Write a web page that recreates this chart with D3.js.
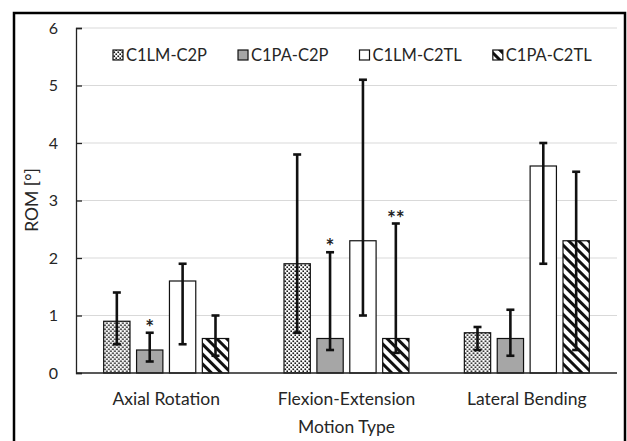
<!DOCTYPE html>
<html>
<head>
<meta charset="utf-8">
<script src="https://cdn.jsdelivr.net/npm/d3@7"></script>
<style>
  body { margin: 0; background: #fff; }
  svg { display: block; font-family: Lato, "Open Sans", sans-serif; }
</style>
</head>
<body>
<svg id="chart" width="627" height="441"></svg>
<script>
// data
const motions = ['Axial Rotation', 'Flexion-Extension', 'Lateral Bending'];
const groups = ['C1LM-C2P', 'C1PA-C2P', 'C1LM-C2TL', 'C1PA-C2TL'];
const means = [
  [0.9, 0.4, 1.6, 0.6],
  [1.9, 0.6, 2.3, 0.6],
  [0.7, 0.6, 3.6, 2.3]
];
const errLow = [
  [0.5, 0.2, 0.5, 0.3],
  [0.7, 0.4, 1.0, 0.35],
  [0.4, 0.3, 1.9, 0.4]
];
const errHigh = [
  [1.4, 0.7, 1.9, 1.0],
  [3.8, 2.1, 5.1, 2.6],
  [0.8, 1.1, 4.0, 3.5]
];
const marks = [
  ['', '*', '', ''],
  ['', '*', '', '**'],
  ['', '', '', '']
];
const yTicks = [0, 1, 2, 3, 4, 5, 6];

const svg = d3.select('#chart');
const plotL = 76, plotR = 617, plotT = 28, plotB = 373;
const ink = '#262626';

// patterns
const defs = svg.append('defs');
const dots = defs.append('pattern')
  .attr('id', 'dots').attr('patternUnits', 'userSpaceOnUse')
  .attr('width', 4).attr('height', 4);
dots.append('rect').attr('width', 4).attr('height', 4).attr('fill', '#fff');
dots.append('rect').attr('x', 0.4).attr('y', 0.4).attr('width', 1.7).attr('height', 1.7).attr('fill', '#1a1a1a');
dots.append('rect').attr('x', 2.4).attr('y', 2.4).attr('width', 1.7).attr('height', 1.7).attr('fill', '#1a1a1a');

const hatch = defs.append('pattern')
  .attr('id', 'hatch').attr('patternUnits', 'userSpaceOnUse')
  .attr('width', 7).attr('height', 7)
  .attr('patternTransform', 'rotate(-45)');
hatch.append('rect').attr('width', 7).attr('height', 7).attr('fill', '#fff');
hatch.append('rect').attr('width', 3).attr('height', 7).attr('fill', '#111');

const fills = ['url(#dots)', '#a6a6a6', '#fff', 'url(#hatch)'];

// outer frame
svg.append('rect')
  .attr('x', 14).attr('y', 13).attr('width', 611).attr('height', 460)
  .attr('fill', 'none').attr('stroke', '#000').attr('stroke-width', 2.5);

const y = d3.scaleLinear().domain([0, 6]).range([plotB, plotT]);
const x0 = d3.scaleBand().domain(motions).range([plotL, plotR])
  .paddingInner(0.307).paddingOuter(0.1535);
const x1 = d3.scaleBand().domain(groups).range([0, x0.bandwidth()]).paddingInner(0.2);

// gridlines
svg.append('g')
  .selectAll('line').data(yTicks.slice(1)).join('line')
  .attr('x1', plotL).attr('x2', plotR)
  .attr('y1', d => y(d)).attr('y2', d => y(d))
  .attr('stroke', '#d9d9d9').attr('stroke-width', 1.2);

// y axis
const yAxis = svg.append('g')
  .attr('transform', `translate(${plotL},0)`)
  .call(d3.axisRight(y).tickValues(yTicks).tickSize(6).tickFormat(''));
yAxis.select('.domain').attr('stroke', '#222').attr('stroke-width', 1.3);
yAxis.selectAll('.tick line').attr('stroke', '#222').attr('stroke-width', 1.3);

svg.append('g').selectAll('text').data(yTicks).join('text')
  .attr('x', 58).attr('y', d => y(d)).attr('dy', '0.36em')
  .attr('text-anchor', 'end').attr('font-size', 16).attr('fill', ink)
  .text(d => d);

// bars
const rows = motions.map((m, i) => groups.map((g, j) => ({
  m, g, j, v: means[i][j], lo: errLow[i][j], hi: errHigh[i][j], mark: marks[i][j]
})));

const gSel = svg.append('g').selectAll('g').data(rows).join('g')
  .attr('transform', (d, i) => `translate(${x0(motions[i])},0)`);

gSel.selectAll('rect').data(d => d).join('rect')
  .attr('x', d => x1(d.g)).attr('width', x1.bandwidth())
  .attr('y', d => y(d.v)).attr('height', d => y(0) - y(d.v))
  .attr('fill', d => fills[d.j])
  .attr('stroke', '#111').attr('stroke-width', 1.2);

// error bars
const cap = 4;
const eb = gSel.selectAll('g.err').data(d => d).join('g').attr('class', 'err');
eb.append('line')
  .attr('x1', d => x1(d.g) + x1.bandwidth() / 2).attr('x2', d => x1(d.g) + x1.bandwidth() / 2)
  .attr('y1', d => y(d.lo)).attr('y2', d => y(d.hi));
eb.append('line')
  .attr('x1', d => x1(d.g) + x1.bandwidth() / 2 - cap).attr('x2', d => x1(d.g) + x1.bandwidth() / 2 + cap)
  .attr('y1', d => y(d.hi)).attr('y2', d => y(d.hi));
eb.append('line')
  .attr('x1', d => x1(d.g) + x1.bandwidth() / 2 - cap).attr('x2', d => x1(d.g) + x1.bandwidth() / 2 + cap)
  .attr('y1', d => y(d.lo)).attr('y2', d => y(d.lo));
eb.selectAll('line').attr('stroke', '#111').attr('stroke-width', 2.6);

// significance marks
gSel.selectAll('text.mark').data(d => d.filter(e => e.mark)).join('text')
  .attr('class', 'mark')
  .attr('x', d => x1(d.g) + x1.bandwidth() / 2)
  .attr('y', d => y(d.hi) + 2)
  .attr('text-anchor', 'middle').attr('font-size', 21).attr('font-weight', 'bold')
  .attr('fill', '#222')
  .text(d => d.mark);

// x axis line
svg.append('line')
  .attr('x1', plotL).attr('x2', plotR).attr('y1', plotB).attr('y2', plotB)
  .attr('stroke', '#222').attr('stroke-width', 1.5);

// category labels
svg.append('g').selectAll('text').data(motions).join('text')
  .attr('x', d => x0(d) + x0.bandwidth() / 2).attr('y', 405)
  .attr('text-anchor', 'middle').attr('font-size', 17.5).attr('fill', ink)
  .text(d => d);

svg.append('text')
  .attr('x', (plotL + plotR) / 2).attr('y', 433)
  .attr('text-anchor', 'middle').attr('font-size', 17.5).attr('fill', ink)
  .text('Motion Type');

svg.append('text')
  .attr('transform', 'translate(38,200) rotate(-90)')
  .attr('text-anchor', 'middle').attr('font-size', 17.5).attr('fill', ink)
  .text('ROM [°]');

// legend
const legend = svg.append('g').attr('transform', 'translate(113,55)');
let lx = 0;
groups.forEach((g, j) => {
  const item = legend.append('g').attr('transform', `translate(${lx},0)`);
  item.append('rect')
    .attr('x', 0).attr('y', -5).attr('width', 10).attr('height', 10)
    .attr('fill', fills[j]).attr('stroke', '#111').attr('stroke-width', 1.2);
  const t = item.append('text')
    .attr('x', 13).attr('y', 0).attr('dy', '0.36em')
    .attr('font-size', 16.5).attr('fill', ink)
    .text(g);
  lx += 13 + t.node().getComputedTextLength() + 31;
});
</script>
</body>
</html>
